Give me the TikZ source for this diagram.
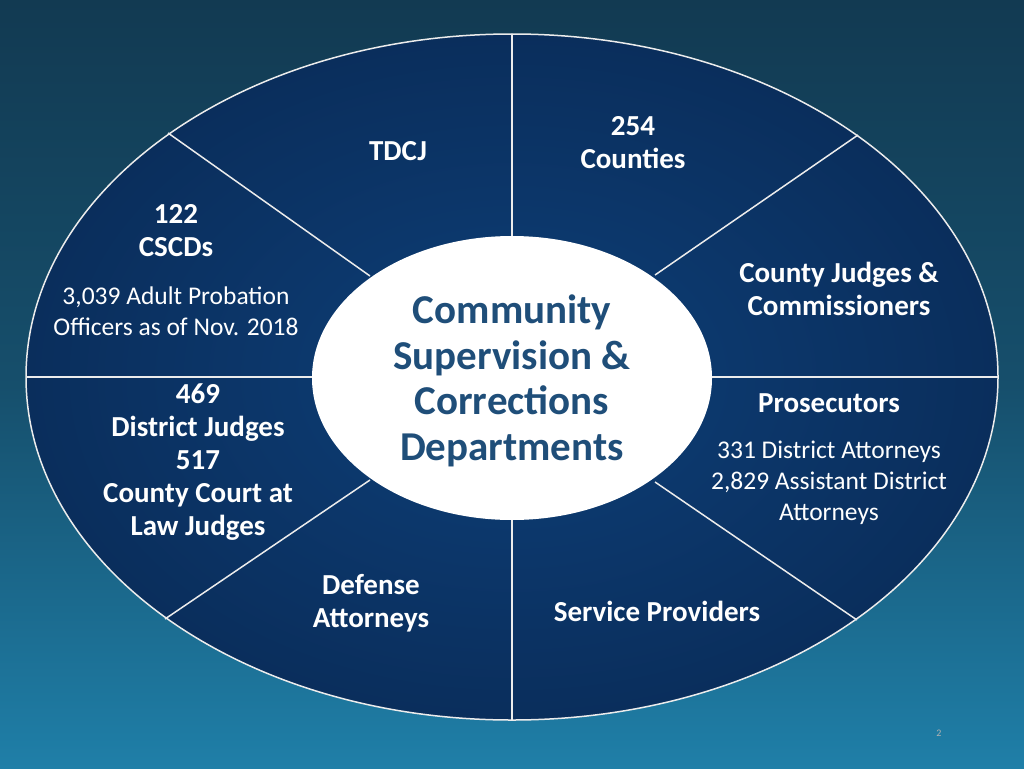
\documentclass[tikz,border=0pt]{standalone}
\usepackage{fontspec}
\setmainfont{Carlito}
\usetikzlibrary{shadings}
\definecolor{bgtop}{HTML}{123A52}
\definecolor{bgbot}{HTML}{1F7FA8}
\definecolor{ellin}{HTML}{0E3F78}
\definecolor{ellout}{HTML}{0A2E5C}
\definecolor{ctext}{HTML}{1F4E79}
\tikzset{
  hd/.style={text=white,font=\bfseries\fontsize{29}{33}\selectfont,align=center},
  rg/.style={text=white,font=\fontsize{25.5}{31}\selectfont,align=center},
  ct/.style={text=ctext,font=\bfseries\fontsize{41}{45.5}\selectfont,align=center},
  sep/.style={draw=white!85!gray,line width=1.5pt}
}
\begin{document}
\begin{tikzpicture}[x=1pt,y=-1pt]
\useasboundingbox (0,0) rectangle (1024,768);
\shade[top color=bgtop,bottom color=bgbot,middle color=bgtop!70!bgbot] (0,0) rectangle (1024,768);
\shade[inner color=ellin,outer color=ellout,draw=white!85!gray,line width=1.5pt] (512,377) ellipse [x radius=486,y radius=343];
\coordinate (t) at (512,34); \coordinate (b) at (512,720);
\coordinate (l) at (26,377); \coordinate (r) at (998,377);
\coordinate (tl) at (168,133); \coordinate (tr) at (858,135);
\coordinate (bl) at (165,619); \coordinate (br) at (857,620);
\coordinate (it) at (512,236); \coordinate (ib) at (512,520);
\coordinate (il) at (312,377); \coordinate (ir) at (712,377);
\coordinate (itl) at (370,276); \coordinate (itr) at (655,275);
\coordinate (ibl) at (370,480); \coordinate (ibr) at (655,482);
\draw[sep] (t)--(it); \draw[sep] (b)--(ib);
\draw[sep] (l)--(il); \draw[sep] (r)--(ir);
\draw[sep] (tl)--(itl); \draw[sep] (tr)--(itr);
\draw[sep] (bl)--(ibl); \draw[sep] (br)--(ibr);
\fill[white] (512,378) ellipse [x radius=200,y radius=142];
\node[ct] (c) at (512,381) {Community\\Supervision \&\\Corrections\\Departments};
\node[hd] (n1) at (633,143) {254\\Counties};
\node[hd] (n2) at (398,151) {TDCJ};
\node[hd] (n3) at (176,231) {122\\CSCDs};
\node[rg] (n4) at (176,311) {3,039 Adult Probation\\Officers as of Nov. 2018};
\node[hd] (n5) at (839,289) {County Judges \&\\Commissioners};
\node[hd] (n6) at (829,403) {Prosecutors};
\node[rg] (n7) at (829,483) {331 District Attorneys\\2,829 Assistant District\\Attorneys};
\node[hd] (n8) at (198,462) {469\\District Judges\\517\\County Court at\\Law Judges};
\node[hd] (n9) at (371,603) {Defense\\Attorneys};
\node[hd] (n10) at (657,611) {Service Providers};
\node[text=gray!60,font=\fontsize{10}{12}\selectfont] (pg) at (939,733) {2};
\end{tikzpicture}
\end{document}
